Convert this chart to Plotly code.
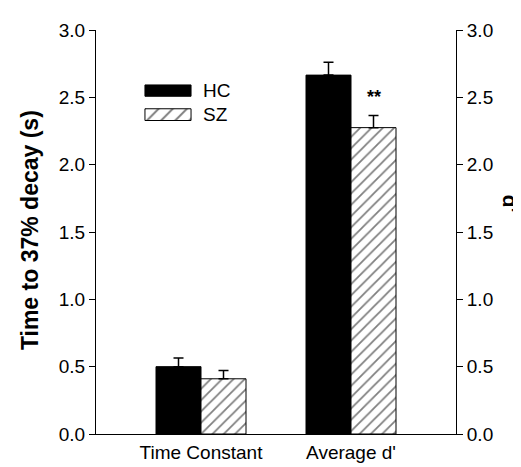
import plotly.graph_objects as go

categories = ["Time Constant", "Average d'"]
hc_values = [0.50, 2.665]
hc_errors = [0.065, 0.095]
sz_values = [0.41, 2.275]
sz_errors = [0.062, 0.09]
y_ticks = [0.0, 0.5, 1.0, 1.5, 2.0, 2.5, 3.0]
y_ticklabels = ["0.0", "0.5", "1.0", "1.5", "2.0", "2.5", "3.0"]

FONT = "Liberation Sans, Arial, sans-serif"
TICK_SIZE = 19
HATCH = dict(shape="/", fgcolor="black", bgcolor="white", size=8, solidity=0.22)

fig = go.Figure()

fig.add_trace(go.Bar(
    x=categories, y=hc_values, name="HC",
    marker=dict(color="black", line=dict(color="black", width=1)),
    error_y=dict(type="data", array=hc_errors, arrayminus=[0, 0], symmetric=False,
                 color="black", thickness=1.5, width=5),
    showlegend=False,
))
fig.add_trace(go.Bar(
    x=categories, y=sz_values, name="SZ",
    marker=dict(color="white", line=dict(color="black", width=1), pattern=HATCH),
    error_y=dict(type="data", array=sz_errors, arrayminus=[0, 0], symmetric=False,
                 color="black", thickness=1.5, width=5),
    showlegend=False,
))

# dummy trace for the right axis
fig.add_trace(go.Scatter(x=[categories[0]], y=[0], yaxis="y2", mode="markers",
                         marker=dict(opacity=0), showlegend=False, hoverinfo="skip"))

# legend swatches on a hidden overlay axis (paper-like units)
sw_x0, sw_x1 = 0.136, 0.264
hc_y0, hc_y1 = 0.836, 0.864
sz_y0, sz_y1 = 0.776, 0.805
fig.add_trace(go.Scatter(
    x=[sw_x0, sw_x1, sw_x1, sw_x0, sw_x0], y=[hc_y0, hc_y0, hc_y1, hc_y1, hc_y0],
    xaxis="x3", yaxis="y3", mode="lines", fill="toself", fillcolor="black",
    line=dict(color="black", width=1), showlegend=False, hoverinfo="skip"))
fig.add_trace(go.Scatter(
    x=[sw_x0, sw_x1, sw_x1, sw_x0, sw_x0], y=[sz_y0, sz_y0, sz_y1, sz_y1, sz_y0],
    xaxis="x3", yaxis="y3", mode="lines", fill="toself", fillcolor="white",
    fillpattern=dict(shape="/", fgcolor="black", bgcolor="white", size=10, solidity=0.2),
    line=dict(color="black", width=1), showlegend=False, hoverinfo="skip"))

axis_common = dict(range=[0, 3], tickvals=y_ticks, ticktext=y_ticklabels, showline=True,
                   linecolor="black", linewidth=1, ticks="outside", ticklen=6,
                   tickcolor="black", showgrid=False, zeroline=False,
                   tickfont=dict(size=TICK_SIZE))

fig.update_layout(
    width=521, height=467,
    margin=dict(l=88, r=73, t=20, b=27),
    paper_bgcolor="white", plot_bgcolor="white",
    barmode="group", bargap=0.4, bargroupgap=0,
    font=dict(family=FONT, size=TICK_SIZE, color="black"),
    xaxis=dict(type="category", range=[-0.7, 1.7], showline=True, linecolor="black",
               linewidth=1, ticks="", showgrid=False, zeroline=False,
               tickfont=dict(size=TICK_SIZE), ticklabelstandoff=1),
    yaxis=dict(**axis_common),
    yaxis2=dict(overlaying="y", side="right", **axis_common),
    xaxis3=dict(overlaying="x", range=[0, 1], visible=False, fixedrange=True),
    yaxis3=dict(overlaying="y", range=[0, 1], visible=False, fixedrange=True),
    annotations=[
        dict(text="<b>Time to 37% decay (s)</b>", xref="paper", yref="paper",
             x=-0.183, y=0.505, textangle=-90, showarrow=False,
             font=dict(size=23), xanchor="center", yanchor="middle"),
        dict(text="<b>d'</b>", xref="paper", yref="paper", x=1.15, y=0.57,
             textangle=90, showarrow=False, font=dict(size=21),
             xanchor="center", yanchor="middle"),
        dict(text="HC", xref="paper", yref="paper", x=0.292, y=0.85, showarrow=False,
             xanchor="left", yanchor="middle", font=dict(size=TICK_SIZE)),
        dict(text="SZ", xref="paper", yref="paper", x=0.292, y=0.79, showarrow=False,
             xanchor="left", yanchor="middle", font=dict(size=TICK_SIZE)),
        dict(text="<b>**</b>", xref="x", yref="y", x=1.15, y=sz_values[1] + sz_errors[1],
             yshift=7, showarrow=False, xanchor="center", yanchor="bottom",
             font=dict(size=18)),
    ],
)

fig.write_html("out.html")
